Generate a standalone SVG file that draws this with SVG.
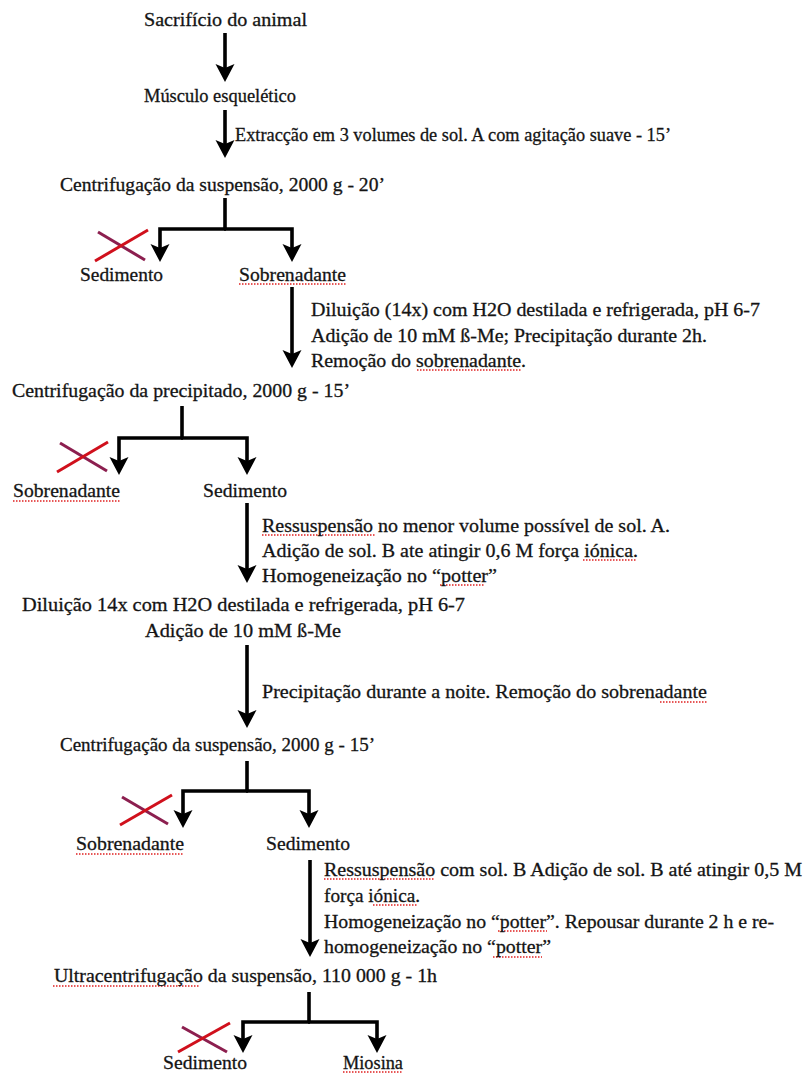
<svg xmlns="http://www.w3.org/2000/svg" width="804" height="1077" viewBox="0 0 804 1077">
<defs>
<style>
text{font-family:"Liberation Serif","Times New Roman",serif;font-size:19.5px;fill:#141414;stroke:#141414;stroke-width:0.3}
.ln{stroke:#000;stroke-width:3.6;fill:none;stroke-linejoin:miter}
.xr{stroke:#d0101c;stroke-width:3}
.xp{stroke:#8c1f4f;stroke-width:3}
.sq{stroke:#e02020;stroke-width:1.4;stroke-dasharray:1.5 1.5;fill:none}
</style>
<marker id="ah" markerUnits="userSpaceOnUse" viewBox="-20 -11 22 22" refX="-8" refY="0" markerWidth="22" markerHeight="22" orient="auto">
<path d="M0,0 L-18,-9.5 L-14,0 L-18,9.5 Z" fill="#000"/>
</marker>
</defs>
<rect width="804" height="1077" fill="#fff"/>

<g id="connectors">
<path class="ln" d="M225,33 V74" marker-end="url(#ah)"/>
<path class="ln" d="M225,110 V150" marker-end="url(#ah)"/>
<path class="ln" d="M225,198 V229"/>
<path class="ln" d="M226,229 H160 V254" marker-end="url(#ah)"/>
<path class="ln" d="M224,229 H292 V254" marker-end="url(#ah)"/>
<path class="ln" d="M292,287 V360" marker-end="url(#ah)"/>
<path class="ln" d="M182,406 V438"/>
<path class="ln" d="M183,438 H119 V467" marker-end="url(#ah)"/>
<path class="ln" d="M181,438 H247 V467" marker-end="url(#ah)"/>
<path class="ln" d="M247,503 V575" marker-end="url(#ah)"/>
<path class="ln" d="M247,645 V720" marker-end="url(#ah)"/>
<path class="ln" d="M247,761 V791"/>
<path class="ln" d="M248,791 H183 V820" marker-end="url(#ah)"/>
<path class="ln" d="M246,791 H309 V820" marker-end="url(#ah)"/>
<path class="ln" d="M310,860 V949" marker-end="url(#ah)"/>
<path class="ln" d="M309,992 V1022"/>
<path class="ln" d="M310,1022 H243 V1045" marker-end="url(#ah)"/>
<path class="ln" d="M308,1022 H377 V1045" marker-end="url(#ah)"/>
</g>

<g id="discard-marks">
<g id="x1"><line class="xp" x1="98" y1="232" x2="145" y2="260"/><line class="xr" x1="95" y1="261" x2="148" y2="230"/></g>
<g id="x2"><line class="xp" x1="60" y1="443" x2="107" y2="471"/><line class="xr" x1="57" y1="472" x2="108" y2="442"/></g>
<g id="x3"><line class="xp" x1="122" y1="797" x2="168" y2="824"/><line class="xr" x1="120" y1="825" x2="172" y2="795"/></g>
<g id="x4"><line class="xp" x1="182" y1="1027" x2="227" y2="1052"/><line class="xr" x1="178" y1="1052" x2="230" y2="1023"/></g>
</g>

<g id="spellcheck">
<path class="sq" d="M239,284 H346"/>
<path class="sq" d="M417,370 H522"/>
<path class="sq" d="M13,501 H120"/>
<path class="sq" d="M262,535 H375"/>
<path class="sq" d="M583,560 H637"/>
<path class="sq" d="M440,585 H485"/>
<path class="sq" d="M660,702 H707"/>
<path class="sq" d="M76,854 H184"/>
<path class="sq" d="M324,879 H435"/>
<path class="sq" d="M373,905 H418"/>
<path class="sq" d="M498,931 H547"/>
<path class="sq" d="M493,957 H542"/>
<path class="sq" d="M53,986 H199"/>
<path class="sq" d="M343,1072 H403"/>
</g>

<g id="n1"><text x="144" y="26" textLength="163" lengthAdjust="spacingAndGlyphs">Sacrifício do animal</text></g>
<g id="n2"><text x="144" y="102" textLength="152" lengthAdjust="spacingAndGlyphs">Músculo esquelético</text></g>
<g id="l1"><text x="235" y="141" textLength="436" lengthAdjust="spacingAndGlyphs">Extracção em 3 volumes de sol. A com agitação suave - 15’</text></g>
<g id="n3"><text x="60" y="191" textLength="325" lengthAdjust="spacingAndGlyphs">Centrifugação da suspensão, 2000 g - 20’</text></g>
<g id="n4"><text x="80" y="281" textLength="83" lengthAdjust="spacingAndGlyphs">Sedimento</text></g>
<g id="n5"><text x="239" y="281" textLength="107" lengthAdjust="spacingAndGlyphs">Sobrenadante</text></g>
<g id="l2">
<text x="311" y="316" textLength="449" lengthAdjust="spacingAndGlyphs">Diluição (14x) com H2O destilada e refrigerada, pH 6-7</text>
<text x="311" y="342" textLength="396" lengthAdjust="spacingAndGlyphs">Adição de 10 mM ß-Me; Precipitação durante 2h.</text>
<text x="311" y="367" textLength="215" lengthAdjust="spacingAndGlyphs">Remoção do sobrenadante.</text>
</g>
<g id="n6"><text x="12" y="397" textLength="338" lengthAdjust="spacingAndGlyphs">Centrifugação da precipitado, 2000 g - 15’</text></g>
<g id="n7"><text x="13" y="497" textLength="107" lengthAdjust="spacingAndGlyphs">Sobrenadante</text></g>
<g id="n8"><text x="203" y="497" textLength="84" lengthAdjust="spacingAndGlyphs">Sedimento</text></g>
<g id="l3">
<text x="262" y="532" textLength="408" lengthAdjust="spacingAndGlyphs">Ressuspensão no menor volume possível de sol. A.</text>
<text x="262" y="557" textLength="376" lengthAdjust="spacingAndGlyphs">Adição de sol. B ate atingir 0,6 M força iónica.</text>
<text x="262" y="582" textLength="235" lengthAdjust="spacingAndGlyphs">Homogeneização no “potter”</text>
</g>
<g id="n9">
<text x="22" y="611" textLength="443" lengthAdjust="spacingAndGlyphs">Diluição 14x com H2O destilada e refrigerada, pH 6-7</text>
<text x="145" y="637" textLength="196" lengthAdjust="spacingAndGlyphs">Adição de 10 mM ß-Me</text>
</g>
<g id="l4"><text x="262" y="698" textLength="445" lengthAdjust="spacingAndGlyphs">Precipitação durante a noite. Remoção do sobrenadante</text></g>
<g id="n10"><text x="60" y="751" textLength="315" lengthAdjust="spacingAndGlyphs">Centrifugação da suspensão, 2000 g - 15’</text></g>
<g id="n11"><text x="76" y="850" textLength="108" lengthAdjust="spacingAndGlyphs">Sobrenadante</text></g>
<g id="n12"><text x="266" y="850" textLength="84" lengthAdjust="spacingAndGlyphs">Sedimento</text></g>
<g id="l5">
<text x="324" y="876" textLength="478" lengthAdjust="spacingAndGlyphs">Ressuspensão com sol. B Adição de sol. B até atingir 0,5 M</text>
<text x="324" y="902" textLength="96" lengthAdjust="spacingAndGlyphs">força iónica.</text>
<text x="324" y="928" textLength="450" lengthAdjust="spacingAndGlyphs">Homogeneização no “potter”. Repousar durante 2 h e re-</text>
<text x="324" y="953" textLength="227" lengthAdjust="spacingAndGlyphs">homogeneização no “potter”</text>
</g>
<g id="n13"><text x="54" y="982" textLength="383" lengthAdjust="spacingAndGlyphs">Ultracentrifugação da suspensão, 110 000 g - 1h</text></g>
<g id="n14"><text x="163" y="1069" textLength="84" lengthAdjust="spacingAndGlyphs">Sedimento</text></g>
<g id="n15"><text x="343" y="1069" textLength="60" lengthAdjust="spacingAndGlyphs">Miosina</text></g>
</svg>
